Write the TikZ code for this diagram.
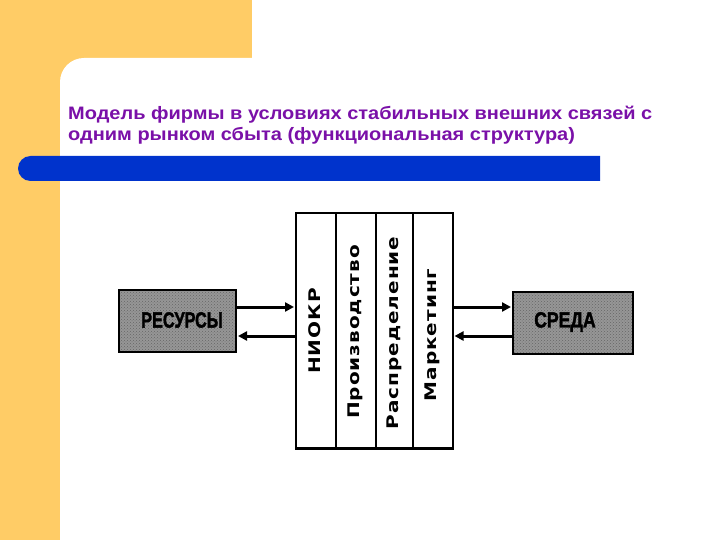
\documentclass[tikz,border=0pt]{standalone}
\usepackage{fontspec}
\setmainfont{Liberation Sans}
\newfontfamily\colfont[LetterSpace=5]{DejaVu Sans}
\newfontfamily\heavyfont[BoldFeatures={FakeBold=2}]{Liberation Sans}
\usetikzlibrary{arrows.meta,patterns}
\definecolor{orangebg}{RGB}{255,204,102}
\definecolor{barblue}{RGB}{0,51,204}
\definecolor{titlepurple}{RGB}{122,16,168}
\definecolor{boxgray}{RGB}{150,150,150}
\tikzset{
  titletext/.style={anchor=base west, inner sep=0pt, text=titlepurple,
    font=\fontsize{18}{21}\selectfont\bfseries},
  colbox/.style={draw=black, line width=1.5pt, minimum width=#1, minimum height=234pt,
    inner sep=0pt, anchor=north west},
  coltext/.style={rotate=90, inner sep=0pt, font=\colfont\fontsize{20}{22}\selectfont\bfseries},
  grayblock/.style={draw=black, line width=2pt, preaction={fill=boxgray},
    pattern=crosshatch dots, pattern color=black!60, inner sep=0pt, anchor=north west},
  blocktext/.style={inner sep=0pt, font=\heavyfont\fontsize{22}{24}\selectfont\bfseries},
  flow/.style={line width=3pt, -{Triangle[length=9pt,width=9pt]}, shorten >=1pt}
}
\newcommand{\coltxt}[1]{\scalebox{1}[0.8]{#1}}
\begin{document}
\begin{tikzpicture}[x=1pt,y=-1pt]
\useasboundingbox (0,0) rectangle (720,540);
% background
\fill[orangebg] (0,0) rectangle (252,58);
\fill[orangebg] (0,0) rectangle (60,540);
\fill[orangebg] (60,58) rectangle (84,82);
\fill[white] (60,540) -- (60,82) arc[start angle=180,end angle=270,radius=24] -- (252,58) -- (252,540) -- cycle;
% blue bar
\fill[barblue] (600,156) -- (30.5,156) arc[start angle=270,end angle=90,radius=12.5] -- (600,181) -- cycle;
% title
\node[titletext] (t1) at (68,120) {\scalebox{1.11}[1]{Модель фирмы в условиях стабильных внешних связей с}};
\node[titletext] (t2) at (68,141) {\scalebox{1.11}[1]{одним рынком сбыта (функциональная структура)}};
% central columns
\node[colbox=40pt] (c1) at (295,213) {};
\node[colbox=40pt] (c2) at (335,213) {};
\node[colbox=37pt] (c3) at (375,213) {};
\node[colbox=40pt] (c4) at (412,213) {};
\draw[line width=2.5pt] (c1.north west) -- (c4.north east);
\draw[line width=2.5pt] (c1.south west) -- (c4.south east);
\node[coltext] (l1) at (315,331) {\coltxt{НИОКР}};
\node[coltext] (l2) at (355,332) {\coltxt{Производство}};
\node[coltext] (l3) at (394,333) {\coltxt{Распределение}};
\node[coltext] (l4) at (432,335) {\coltxt{Маркетинг}};
% side blocks
\node[grayblock, minimum width=117pt, minimum height=62pt] (res) at (118,289) {};
\node[blocktext] (rest) at (182,320) {\scalebox{0.74}[1]{РЕСУРСЫ}};
\node[grayblock, minimum width=120pt, minimum height=62pt] (env) at (512,291) {};
\node[blocktext] (envt) at (565,322) {\scalebox{0.8}[1]{СРЕДА}};
% arrows
\draw[flow] (res.east |- 0,307) -- (c1.west |- 0,307);
\draw[flow] (c1.west |- 0,336) -- (res.east |- 0,336);
\draw[flow] (c4.east |- 0,307) -- (env.west |- 0,307);
\draw[flow] (env.west |- 0,336) -- (c4.east |- 0,336);
\end{tikzpicture}
\end{document}
